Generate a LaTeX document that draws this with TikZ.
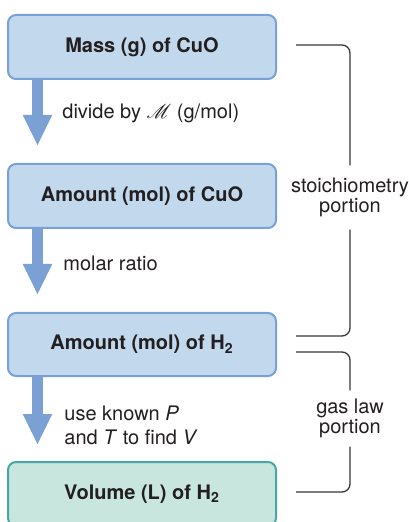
\documentclass[tikz,border=0pt]{standalone}
\usepackage{fontspec}
\setmainfont{TeX Gyre Heros}
\usepackage{mathrsfs}
\usetikzlibrary{positioning,arrows.meta}
\definecolor{BoxB}{RGB}{194,217,237}
\definecolor{EdgeB}{RGB}{122,160,214}
\definecolor{ArrB}{RGB}{122,160,212}
\definecolor{BoxG}{RGB}{200,230,221}
\definecolor{EdgeG}{RGB}{72,166,166}
\definecolor{Ink}{RGB}{35,31,32}
\definecolor{Brk}{RGB}{55,55,55}

\begin{document}
\begin{tikzpicture}[x=0.5pt, y=-0.5pt, font=\fontsize{10}{11.5}\selectfont, text=Ink,
    stepbox/.style={draw=EdgeB, fill=BoxB, line width=1pt, rounded corners=4pt,
        minimum width=134pt, minimum height=32pt, font=\fontsize{10}{11.5}\selectfont\bfseries},
    flow/.style={draw=ArrB, line width=5.5pt, -{Triangle[width=13.5pt,length=15.5pt]}},
    brk/.style={draw=Brk, line width=0.65pt, rounded corners=4pt},
    note/.style={anchor=west, align=left, inner sep=0pt},
    portion/.style={align=center, inner xsep=0pt, font=\fontsize{10}{9}\selectfont}]
        \useasboundingbox (0,0) rectangle (408,522);
        \node[stepbox] (mass)   at (142,47)    {Mass (g) of CuO};
        \node[stepbox] (molcuo) at (142,196)   {Amount (mol) of CuO};
        \node[stepbox, minimum height=31.5pt] (molh) at (142,344.5) {Amount (mol) of H\textsubscript{2}};
        \node[stepbox, draw=EdgeG, fill=BoxG] (vol) at (142,494) {Volume (L) of H\textsubscript{2}};
        \draw[flow] ([xshift=15.25pt]mass.south west)   -- ([xshift=15.25pt, yshift=8.5pt]molcuo.north west);
        \draw[flow] ([xshift=15.25pt]molcuo.south west) -- ([xshift=15.25pt, yshift=8.5pt]molh.north west);
        \draw[flow] ([xshift=15.25pt]molh.south west)   -- ([xshift=15.25pt, yshift=8pt]vol.north west);
        \node[note] (divide) at (62,113) {divide by $\mathscr{M}$ (g/mol)};
        \node[note] (ratio)  at (63,263) {molar ratio};
        \node[note, font=\fontsize{10}{12}\selectfont] (findv) at (64,425) {use known \textit{P}\\and \textit{T} to find \textit{V}};
        \node[portion, inner ysep=6pt] (stoich) at (350,197.5) {stoichiometry\\portion};
        \node[portion, inner ysep=4pt] (gaslaw) at (350,418.5) {gas law\\portion};
        \coordinate (s1) at (296,45);
        \coordinate (s2) at (296,336);
        \coordinate (g1) at (296,352);
        \coordinate (g2) at (296,492);
        \draw[brk] (s1) -- (s1 -| stoich.north) -- (stoich.north);
        \draw[brk] (stoich.south) -- (s2 -| stoich.south) -- (s2);
        \draw[brk] (g1) -- (g1 -| gaslaw.north) -- (gaslaw.north);
        \draw[brk] (gaslaw.south) -- (g2 -| gaslaw.south) -- (g2);
    \end{tikzpicture}
\end{document}
